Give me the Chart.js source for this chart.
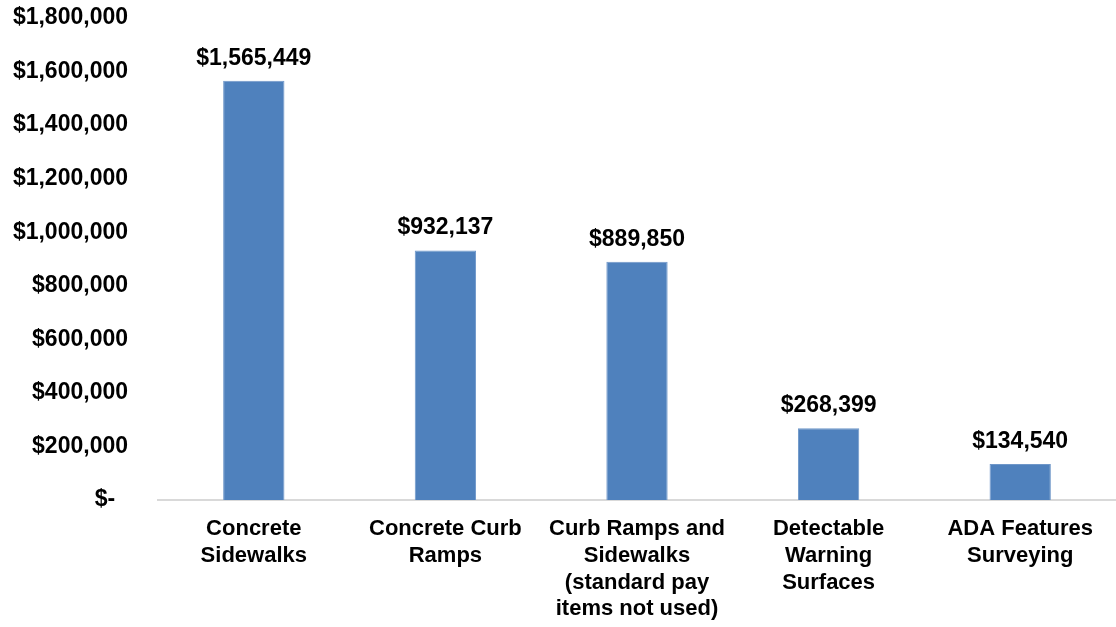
<!doctype html>
<html>
<head>
    <meta charset="utf-8" />
    <title>ADA Items Cost</title>
    <script src="https://cdn.jsdelivr.net/npm/chart.js@4.4.1/dist/chart.umd.min.js"></script>
    <style>
        html, body { margin: 0; padding: 0; background: #fff; }
        #wrap { width: 1116px; height: 627px; }
    </style>
</head>
<body>
    <div id="wrap"><canvas id="myChart" width="1116" height="627"></canvas></div>
    <script>
        var categories = [
            ["Concrete", "Sidewalks"],
            ["Concrete Curb", "Ramps"],
            ["Curb Ramps and", "Sidewalks", "(standard pay", "items not used)"],
            ["Detectable", "Warning", "Surfaces"],
            ["ADA Features", "Surveying"]
        ];
        var costs = [1565449, 932137, 889850, 268399, 134540];
        var yMax = 1800000;
        var yStep = 200000;

        var FONT = "'Liberation Sans', Arial, sans-serif";

        function money(v) {
            if (v === 0) return "$-  ";
            return "$" + v.toLocaleString("en-US");
        }

        // draws the value above each bar
        var valueLabels = {
            id: "valueLabels",
            afterDatasetsDraw: function (chart) {
                var ctx = chart.ctx;
                var meta = chart.getDatasetMeta(0);
                ctx.save();
                ctx.font = "bold 23px " + FONT;
                ctx.fillStyle = "#000";
                ctx.textAlign = "center";
                ctx.textBaseline = "alphabetic";
                meta.data.forEach(function (bar, i) {
                    ctx.fillText(money(costs[i]), bar.x, bar.y - 16);
                });
                ctx.restore();
            }
        };

        var chart = new Chart(document.getElementById("myChart"), {
            type: "bar",
            data: {
                labels: categories,
                datasets: [{
                    label: "Cost",
                    data: costs,
                    backgroundColor: "#4F81BD",
                    borderColor: "#6F97C9",
                    borderWidth: 1,
                    barPercentage: 0.32,
                    categoryPercentage: 1
                }]
            },
            options: {
                responsive: false,
                animation: false,
                devicePixelRatio: 1,
                layout: { padding: { top: 18, right: 0, left: 0, bottom: 0 } },
                plugins: {
                    legend: { display: false },
                    tooltip: { enabled: false }
                },
                scales: {
                    x: {
                        grid: { display: false, drawTicks: false },
                        border: { display: true, color: "#D9D9D9", width: 2 },
                        ticks: {
                            color: "#000",
                            padding: 16,
                            maxRotation: 0,
                            autoSkip: false,
                            font: { family: FONT, size: 22, weight: "bold", lineHeight: 1.21 }
                        },
                        afterFit: function (scale) {
                            scale.height = 127;
                            scale.paddingLeft = 0;
                            scale.paddingRight = 0;
                        }
                    },
                    y: {
                        min: 0,
                        max: yMax,
                        grid: { display: false, drawTicks: false },
                        border: { display: false },
                        ticks: {
                            stepSize: yStep,
                            color: "#000",
                            padding: 30,
                            font: { family: FONT, size: 23, weight: "bold" },
                            callback: function (v) { return money(v); }
                        },
                        afterFit: function (scale) {
                            scale.width = 158;
                            scale.paddingTop = 0;
                            scale.paddingBottom = 0;
                        }
                    }
                }
            },
            plugins: [valueLabels]
        });
    </script>
</body>
</html>
